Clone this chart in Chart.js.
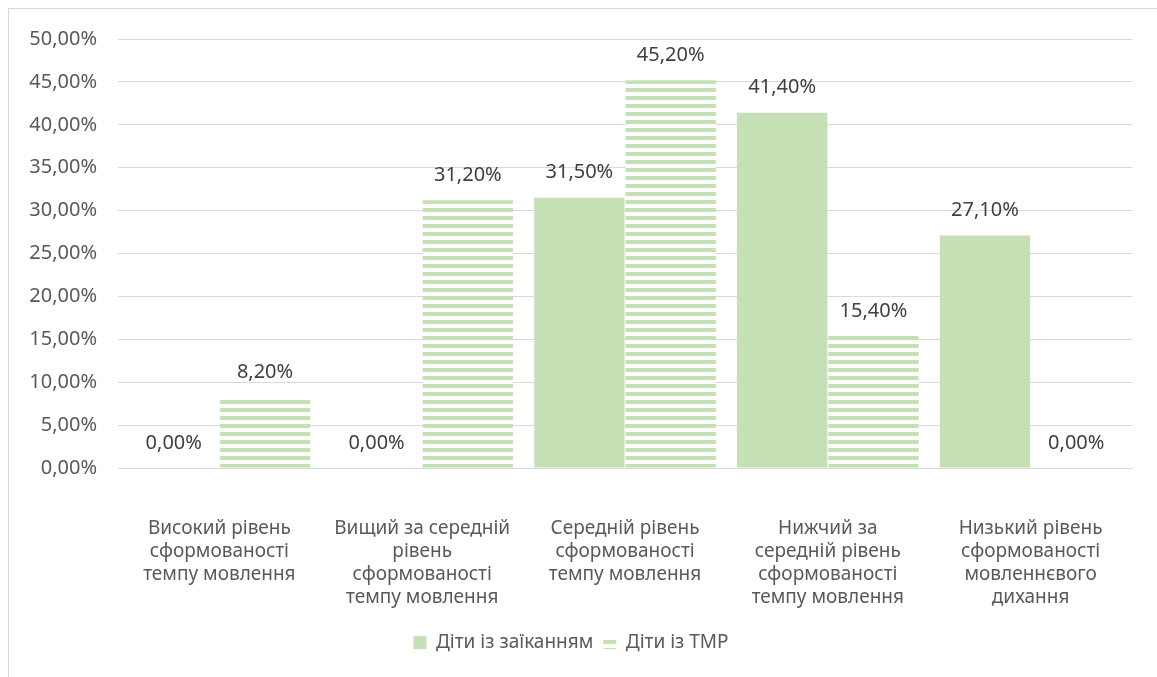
<!doctype html>
<html>
<head>
    <meta charset="utf-8">
    <title>Темп мовлення</title>
    <script src="https://cdn.jsdelivr.net/npm/chart.js"></script>
    <style>
        body {
            margin: 0;
            padding: 0;
            background: #ffffff;
            overflow: hidden;
        }

        #frame {
            position: absolute;
            left: 8px;
            top: 8px;
            width: 1160px;
            height: 680px;
            border-left: 1px solid #d9d9d9;
            border-top: 1px solid #d9d9d9;
        }

        #wrap {
            position: absolute;
            left: 0;
            top: 0;
            width: 1157px;
            height: 677px;
        }
    </style>
</head>
<body>
    <div id="frame"></div>
    <div id="wrap"><canvas id="grafik"></canvas></div>

    <script>
        var kategorii = [
            ['Високий рівень', 'сформованості', 'темпу мовлення'],
            ['Вищий за середній', 'рівень', 'сформованості', 'темпу мовлення'],
            ['Середній рівень', 'сформованості', 'темпу мовлення'],
            ['Нижчий за', 'середній рівень', 'сформованості', 'темпу мовлення'],
            ['Низький рівень', 'сформованості', 'мовленнєвого', 'дихання']
        ];
        var zaikannia = [0.0, 0.0, 31.5, 41.4, 27.1];
        var tmr = [8.2, 31.2, 45.2, 15.4, 0.0];
        var nazvy = ['Діти із заїканням', 'Діти із ТМР'];

        var zelenyi = '#c5e0b4';
        var shryft = '"Noto Sans", "Open Sans", sans-serif';

        // горизонтальна штриховка для другого ряду
        function smuhy() {
            var c = document.createElement('canvas');
            c.width = 8;
            c.height = 8;
            var g = c.getContext('2d');
            g.fillStyle = '#ffffff';
            g.fillRect(0, 0, 8, 8);
            g.fillStyle = zelenyi;
            g.fillRect(0, 0, 8, 4);
            return g.createPattern(c, 'repeat');
        }

        function vidsotok(v) {
            return v.toFixed(2).replace('.', ',') + '%';
        }

        // підписи значень над стовпчиками
        var pidpysy = {
            id: 'pidpysy',
            afterDatasetsDraw: function (chart) {
                var ctx = chart.ctx;
                ctx.save();
                ctx.font = '20px ' + shryft;
                ctx.fillStyle = '#404040';
                ctx.textAlign = 'center';
                ctx.textBaseline = 'middle';
                chart.data.datasets.forEach(function (ds, i) {
                    chart.getDatasetMeta(i).data.forEach(function (bar, j) {
                        ctx.fillText(vidsotok(ds.data[j]), bar.x, bar.y - 25);
                    });
                });
                ctx.restore();
            }
        };

        var grafik = new Chart(document.getElementById('grafik').getContext('2d'), {
            type: 'bar',
            data: {
                labels: kategorii,
                datasets: [{
                    label: nazvy[0],
                    data: zaikannia,
                    backgroundColor: zelenyi,
                    borderWidth: 0
                }, {
                    label: nazvy[1],
                    data: tmr,
                    backgroundColor: smuhy(),
                    borderWidth: 0
                }]
            },
            options: {
                responsive: true,
                maintainAspectRatio: false,
                animation: false,
                datasets: {
                    bar: {
                        categoryPercentage: 0.9,
                        barPercentage: 0.99
                    }
                },
                layout: {
                    padding: { left: 10, right: 25, top: 39, bottom: 15 }
                },
                scales: {
                    x: {
                        grid: { display: false, drawTicks: false },
                        border: { color: '#d9d9d9' },
                        ticks: {
                            autoSkip: false,
                            maxRotation: 0,
                            padding: 49,
                            color: '#595959',
                            font: { family: shryft, size: 19, lineHeight: 1.21 }
                        },
                        afterFit: function (s) { s.height = 155; }
                    },
                    y: {
                        min: 0,
                        max: 50,
                        grid: { color: '#d9d9d9', drawTicks: false },
                        border: { display: false },
                        ticks: {
                            stepSize: 5,
                            padding: 21,
                            color: '#595959',
                            font: { family: shryft, size: 20 },
                            callback: function (v) { return vidsotok(v); }
                        },
                        afterFit: function (s) { s.width = 108; }
                    }
                },
                plugins: {
                    tooltip: { enabled: false },
                    legend: {
                        position: 'bottom',
                        labels: {
                            boxWidth: 13,
                            boxHeight: 13,
                            padding: 10,
                            color: '#595959',
                            font: { family: shryft, size: 19 }
                        }
                    }
                }
            },
            plugins: [pidpysy]
        });
    </script>
</body>
</html>
